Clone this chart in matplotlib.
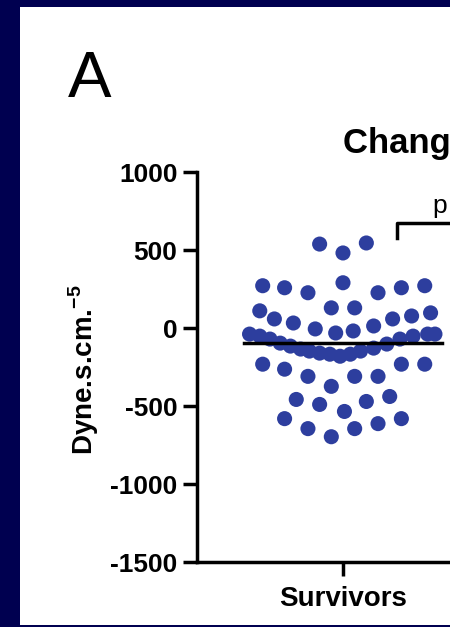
import matplotlib
matplotlib.use('Agg')
import matplotlib.pyplot as plt
from matplotlib.patches import Rectangle
import numpy as np

plt.rcParams['font.family'] = ['Liberation Sans', 'DejaVu Sans']
plt.rcParams['axes.unicode_minus'] = False
plt.rcParams['mathtext.fontset'] = 'custom'
plt.rcParams['mathtext.rm'] = 'Liberation Sans:bold'
plt.rcParams['mathtext.bf'] = 'Liberation Sans:bold'

# Valores por paciente (Dyne.s.cm-5) e deslocamento horizontal dentro da coluna
valores = [538, 481, 545,
           271, 258, 226, 290, 226, 258, 271,
           129, 129,
           110, 58, 32, -6, -32, -19, 13, 58, 77, 97,
           -39, -52, -71, -97, -116, -135, -148, -161, -168, -181,
           -168, -148, -129, -103, -71, -52, -39, -39,
           -232, -264, -310, -374, -310, -310, -232, -232,
           -458, -490, -535, -471, -439,
           -581, -645, -697, -645, -613, -581]
desloc = [-0.16, 0.0, 0.16,
          -0.55, -0.40, -0.24, 0.0, 0.24, 0.40, 0.56,
          -0.08, 0.08,
          -0.57, -0.47, -0.34, -0.19, -0.05, 0.07, 0.21, 0.34, 0.47, 0.60,
          -0.64, -0.57, -0.50, -0.43, -0.36, -0.29, -0.23, -0.16, -0.09, -0.02,
          0.05, 0.12, 0.21, 0.30, 0.39, 0.48, 0.58, 0.63,
          -0.55, -0.40, -0.24, -0.08, 0.08, 0.24, 0.40, 0.56,
          -0.32, -0.16, 0.01, 0.16, 0.32,
          -0.40, -0.24, -0.08, 0.08, 0.24, 0.40]
grupos = ['Survivors']
yticks = [-1500, -1000, -500, 0, 500, 1000]

mediana = np.median(valores)

fig = plt.figure(figsize=(4.5, 6.27), dpi=100, facecolor='#000050')
# painel branco
fig.patches.append(Rectangle((20 / 450, 1 - 625 / 627), 1, 618 / 627,
                             transform=fig.transFigure, facecolor='white',
                             edgecolor='none', zorder=-5))

ax = fig.add_axes([197 / 450, 1 - 562 / 627, 0.8, 390 / 627])
ax.set_facecolor('none')

ax.scatter(desloc, valores, s=118, color='#2d3e9e', edgecolors='none', zorder=3)
ax.plot([-0.68, 0.68], [mediana, mediana], color='black', lw=2.5, zorder=4)

# colchete da comparação
ax.plot([0.37, 0.37, 2.0], [577, 673, 673], color='black', lw=2.5, clip_on=False)
ax.text(0.62, 735, 'p = 0.03', fontsize=19, ha='left', va='baseline')

ax.set_ylim(-1500, 1000)
ax.set_xlim(-1, 1.466)
ax.set_yticks(yticks)
ax.set_yticklabels([str(v) for v in yticks], fontsize=19, fontweight='bold')
ax.set_xticks([0])
ax.set_xticklabels(grupos, fontsize=20, fontweight='bold')

for s in ['top', 'right']:
    ax.spines[s].set_visible(False)
for s in ['left', 'bottom']:
    ax.spines[s].set_linewidth(2.5)
ax.tick_params(axis='y', length=10, width=2.5, pad=4)
ax.tick_params(axis='x', length=10, width=2.5, pad=7)

fig.text(84 / 450, 1 - 370 / 627, r'Dyne.s.cm.$^{-5}$', rotation=90,
         fontsize=20, fontweight='bold', ha='center', va='center')
fig.text(343 / 450, 1 - 153 / 627, 'Change in SVR', fontsize=25,
         fontweight='bold', ha='left', va='baseline')
fig.text(68 / 450, 1 - 97 / 627, 'A', fontsize=47, ha='left', va='baseline')

fig.savefig('out.png', dpi=100, facecolor=fig.get_facecolor())
